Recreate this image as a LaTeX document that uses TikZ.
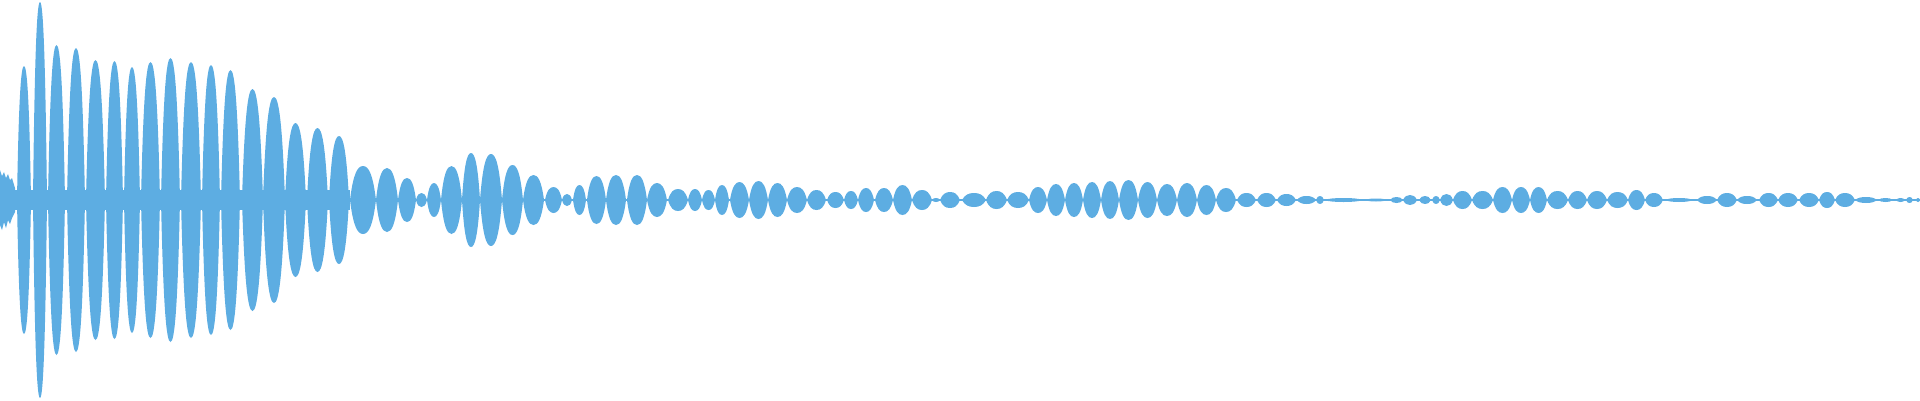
\documentclass[tikz,border=0pt]{standalone}
\definecolor{wave}{RGB}{93,173,226}
\begin{document}
\begin{tikzpicture}[x=1pt,y=1pt,lobe/.style={fill=wave}]
\useasboundingbox (0,-200) rectangle (1920,200);
\fill[wave] (0,-1) rectangle (1920,1);
\fill[wave] (15,-10) rectangle (350,10);
% initial noise
\fill[wave] (0,-25) -- (2,-30) -- (4,-22) -- (6,-28) -- (8,-20) -- (10,-24) -- (12,-18) -- (15,-12) -- (15,12) -- (12,22) -- (10,20) -- (8,26) -- (6,22) -- (4,28) -- (2,24) -- (0,30) -- cycle;
\foreach \a/\b/\h in {
17/31/134, 33/47/198, 48/65/155, 67/85/152, 86/105/140, 106/123/139, 124/140/133,
141/160/138, 161/180/142, 181/201/138, 202/220/135, 221/240/130, 242/263/111,
263/285/103, 285/306/77, 307/328/72, 329/349/64, 350/376/34, 376/398/32, 398/416/22,
416/427/7, 427/441/17, 441/462/34, 462/480/47,
480/502/46, 502/523/35, 523/544/25, 545/562/13, 562/572/6, 573/586/15, 587/606/24,
606/626/25, 627/647/25, 647/667/17, 668/688/11, 688/702/11, 702/715/10, 715/729/15,
730/749/18, 749/768/19, 768/787/17, 787/807/13, 807/826/10, 827/844/8, 844/858/9,
858/874/12, 875/893/12, 893/912/15, 912/932/10, 932/940/2, 940/960/8,
962/986/7, 986/1007/9, 1007/1029/8, 1029/1047/13, 1047/1065/16, 1065/1083/17,
1083/1101/18, 1101/1119/19, 1119/1138/20, 1138/1157/18, 1157/1177/16, 1177/1197/17,
1197/1216/15, 1216/1236/12, 1237/1256/7, 1257/1276/7, 1277/1296/6, 1297/1316/4,
1316/1324/4, 1324/1363/2, 1365/1387/1.5, 1390/1403/3, 1403/1417/5, 1419/1431/4, 1432/1440/4,
1440/1453/6, 1453/1472/9, 1472/1493/9, 1493/1512/13, 1512/1530/13, 1530/1547/13,
1547/1568/9, 1568/1587/9, 1587/1607/9, 1607/1628/8, 1628/1645/10, 1645/1663/7,
1665/1693/2, 1697/1717/4, 1717/1737/7, 1737/1757/4, 1759/1778/7, 1778/1798/7,
1799/1819/7, 1819/1835/8, 1835/1855/7, 1855/1877/3, 1878/1893/2, 1896/1905/2,
1906/1913/3, 1916/1920/2}
{
  \pgfmathsetmacro\m{(\a+\b)/2}
  \pgfmathsetmacro\w{\b-\a}
  \fill[lobe] (\a,0) .. controls (\a+0.12*\w,0.75*\h) and (\m-0.22*\w,\h) .. (\m,\h)
     .. controls (\m+0.22*\w,\h) and (\b-0.12*\w,0.75*\h) .. (\b,0)
     .. controls (\b-0.12*\w,-0.75*\h) and (\m+0.22*\w,-\h) .. (\m,-\h)
     .. controls (\m-0.22*\w,-\h) and (\a+0.12*\w,-0.75*\h) .. (\a,0) -- cycle;
}
\end{tikzpicture}
\end{document}
